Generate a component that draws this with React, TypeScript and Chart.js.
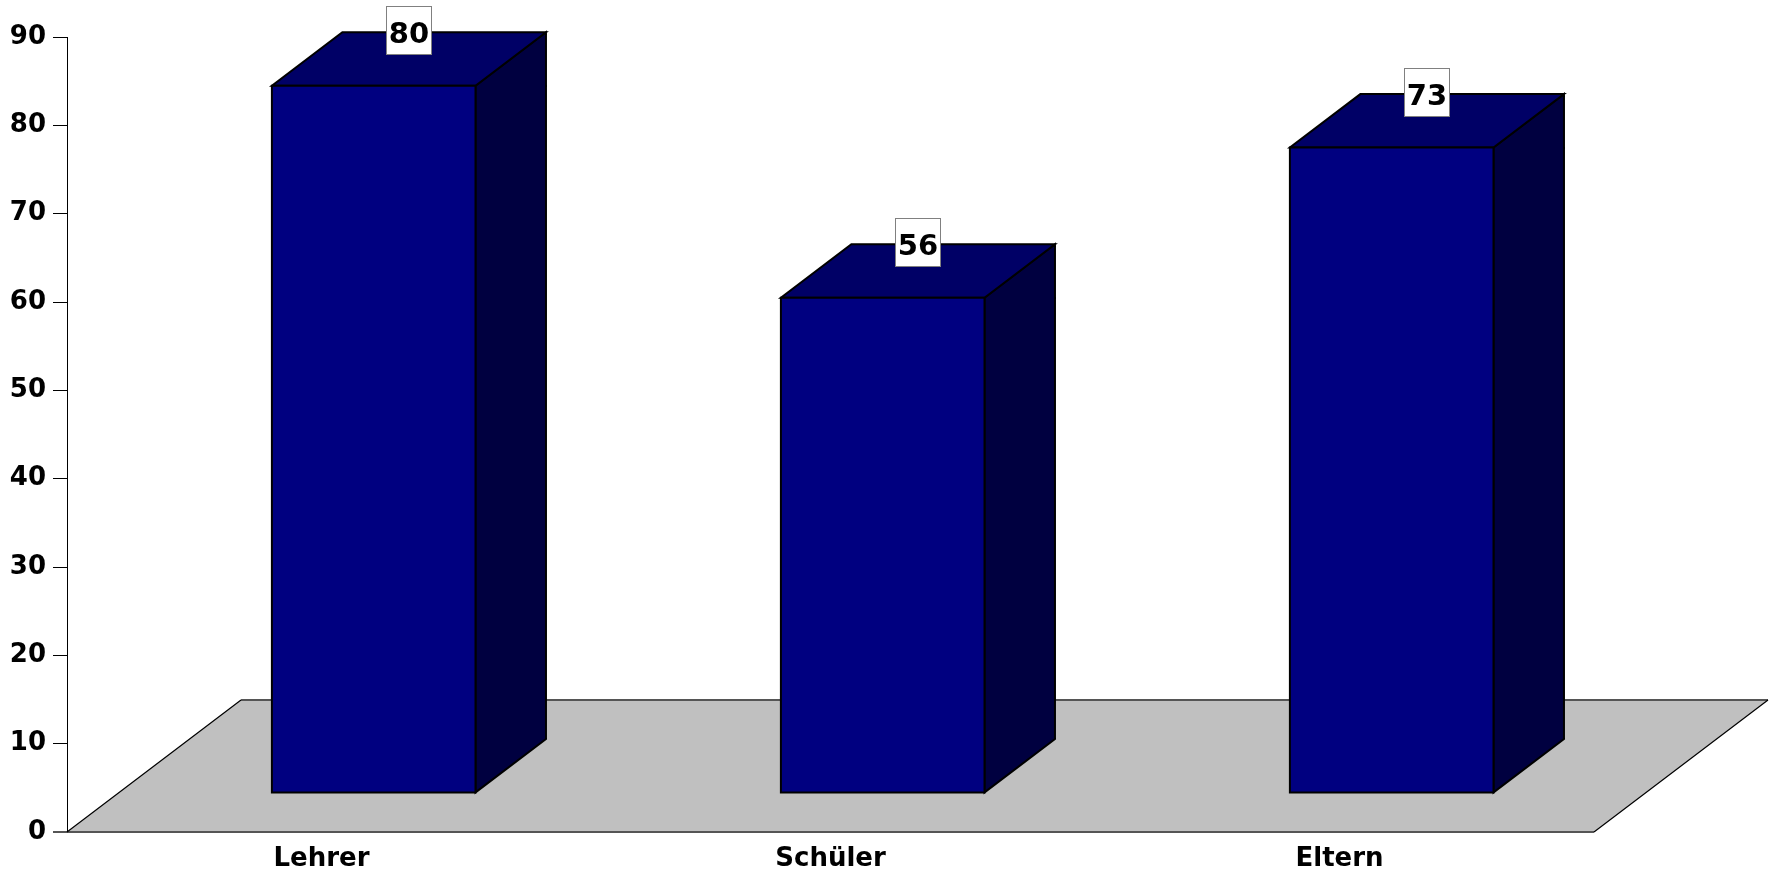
import { useEffect, useRef } from "react";
import { Chart, registerables } from "chart.js";

Chart.register(...registerables);

// Survey groups and their results
const categories: string[] = ["Lehrer", "Schüler", "Eltern"];
const values: number[] = [80, 56, 73];

// Value axis range
const yMin = 0;
const yMax = 90;
const yStep = 10;

const FONT_FAMILY = '"DejaVu Sans", Verdana, sans-serif';

// Pseudo-3D geometry: full floor depth vector and where the bars sit in it
const DEPTH_X = 174;
const DEPTH_Y = 132;
const BAR_FRONT = 0.3;
const BAR_BACK = 0.705;
const BAR_WIDTH_FRACTION = 0.4;

const COLORS = {
  floor: "#c0c0c0",
  floorEdge: "#555555",
  front: "#000080",
  top: "#000066",
  side: "#000040",
  outline: "#000000",
};

function poly(ctx: CanvasRenderingContext2D, pts: number[][]) {
  ctx.beginPath();
  ctx.moveTo(pts[0][0], pts[0][1]);
  for (let i = 1; i < pts.length; i++) ctx.lineTo(pts[i][0], pts[i][1]);
  ctx.closePath();
}

const bar3dPlugin = {
  id: "bar3d",
  beforeDatasetsDraw(chart: any) {
    const { ctx, chartArea } = chart;
    const xs = chart.scales.x;
    const ys = chart.scales.y;
    const y0 = ys.getPixelForValue(0);
    const l = chartArea.left;
    const r = chartArea.right;

    ctx.save();
    // floor
    poly(ctx, [
      [l, y0],
      [r, y0],
      [r + DEPTH_X, y0 - DEPTH_Y],
      [l + DEPTH_X, y0 - DEPTH_Y],
    ]);
    ctx.fillStyle = COLORS.floor;
    ctx.fill();

    ctx.lineWidth = 2;
    ctx.strokeStyle = COLORS.floorEdge;
    ctx.beginPath();
    ctx.moveTo(l + DEPTH_X, y0 - DEPTH_Y);
    ctx.lineTo(r + DEPTH_X, y0 - DEPTH_Y);
    ctx.stroke();
    ctx.beginPath();
    ctx.moveTo(l - 14, y0);
    ctx.lineTo(r, y0);
    ctx.stroke();

    ctx.lineWidth = 1.2;
    ctx.strokeStyle = "#000000";
    ctx.beginPath();
    ctx.moveTo(l, y0);
    ctx.lineTo(l + DEPTH_X, y0 - DEPTH_Y);
    ctx.moveTo(r, y0);
    ctx.lineTo(r + DEPTH_X, y0 - DEPTH_Y);
    ctx.stroke();

    // bars
    const step = xs.getPixelForValue(1) - xs.getPixelForValue(0);
    const hw = (step * BAR_WIDTH_FRACTION) / 2;
    const fdx = BAR_FRONT * DEPTH_X;
    const fdy = BAR_FRONT * DEPTH_Y;
    const bdx = (BAR_BACK - BAR_FRONT) * DEPTH_X;
    const bdy = (BAR_BACK - BAR_FRONT) * DEPTH_Y;

    ctx.lineWidth = 2;
    ctx.lineJoin = "miter";
    ctx.strokeStyle = COLORS.outline;
    values.forEach((v, i) => {
      const cx = xs.getPixelForValue(i);
      const x1 = cx + fdx - hw;
      const x2 = cx + fdx + hw;
      const yb = y0 - fdy;
      const yt = ys.getPixelForValue(v) - fdy;

      // side face
      poly(ctx, [
        [x2, yb],
        [x2, yt],
        [x2 + bdx, yt - bdy],
        [x2 + bdx, yb - bdy],
      ]);
      ctx.fillStyle = COLORS.side;
      ctx.fill();
      ctx.stroke();

      // top face
      poly(ctx, [
        [x1, yt],
        [x2, yt],
        [x2 + bdx, yt - bdy],
        [x1 + bdx, yt - bdy],
      ]);
      ctx.fillStyle = COLORS.top;
      ctx.fill();
      ctx.stroke();

      // front face
      poly(ctx, [
        [x1, yb],
        [x2, yb],
        [x2, yt],
        [x1, yt],
      ]);
      ctx.fillStyle = COLORS.front;
      ctx.fill();
      ctx.stroke();
    });
    ctx.restore();
  },
  afterDatasetsDraw(chart: any) {
    const { ctx } = chart;
    const xs = chart.scales.x;
    const ys = chart.scales.y;
    const mid = (BAR_FRONT + BAR_BACK) / 2;
    const boxW = 45;
    const boxH = 48;

    ctx.save();
    ctx.font = `bold 29px ${FONT_FAMILY}`;
    ctx.textAlign = "center";
    ctx.textBaseline = "alphabetic";
    values.forEach((v, i) => {
      const px = xs.getPixelForValue(i) + mid * DEPTH_X;
      const py = ys.getPixelForValue(v) - mid * DEPTH_Y - 29;
      const bx = Math.round(px - boxW / 2) + 0.5;
      const by = Math.round(py - boxH / 2) + 0.5;
      ctx.fillStyle = "#ffffff";
      ctx.fillRect(bx, by, boxW, boxH);
      ctx.lineWidth = 1;
      ctx.strokeStyle = "#808080";
      ctx.strokeRect(bx, by, boxW, boxH);
      ctx.fillStyle = "#000000";
      ctx.fillText(String(v), px, py + 13);
    });
    ctx.restore();
  },
};

export default function App() {
  const canvasRef = useRef<HTMLCanvasElement | null>(null);

  useEffect(() => {
    const canvas = canvasRef.current;
    if (!canvas) return;
    const chart = new Chart(canvas, {
      type: "bar",
      data: {
        labels: categories,
        datasets: [
          {
            data: values,
            backgroundColor: "rgba(0,0,0,0)",
            borderWidth: 0,
          },
        ],
      },
      options: {
        responsive: false,
        animation: false,
        devicePixelRatio: 1,
        layout: { padding: { top: 37, right: 177, left: 0, bottom: 0 } },
        plugins: {
          legend: { display: false },
          tooltip: { enabled: false },
        },
        scales: {
          x: {
            offset: true,
            grid: { display: false, drawTicks: false },
            border: { display: false },
            ticks: {
              color: "#000000",
              padding: 12,
              font: { family: FONT_FAMILY, size: 26, weight: "bold" },
            },
            afterFit: (scale: any) => {
              scale.height = 39;
            },
          },
          y: {
            min: yMin,
            max: yMax,
            grid: {
              drawOnChartArea: false,
              drawTicks: true,
              tickLength: 14,
              color: (c: any) => (c.tick && c.tick.value === 0 ? "#555555" : "#000000"),
              lineWidth: 1,
            },
            border: { display: true, color: "#000000", width: 1 },
            ticks: {
              stepSize: yStep,
              color: "#000000",
              padding: 7,
              font: { family: FONT_FAMILY, size: 26, weight: "bold" },
            },
            afterFit: (scale: any) => {
              scale.width = 67;
            },
          },
        },
      },
      plugins: [bar3dPlugin],
    });
    return () => chart.destroy();
  }, []);

  return (
    <div style={{ position: "fixed", left: 0, top: 0, width: 1771, height: 871, background: "#ffffff" }}>
      <canvas ref={canvasRef} width={1771} height={871} style={{ display: "block" }} />
    </div>
  );
}
